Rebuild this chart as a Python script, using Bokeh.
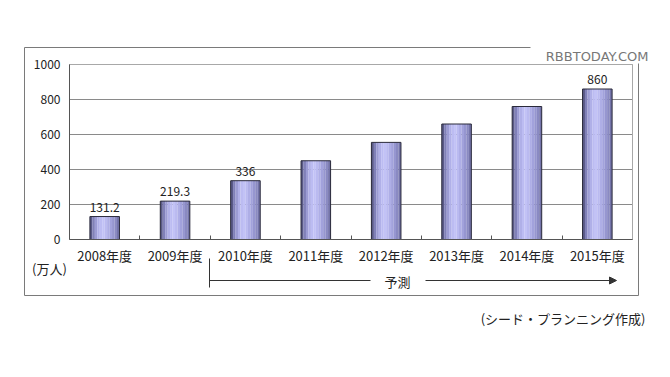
from bokeh.plotting import figure
from bokeh.models import (Range1d, FixedTicker, ColumnDataSource, LabelSet, Label, Arrow,
                          NormalHead, LinearAxis)
from bokeh.core.properties import value
from bokeh.embed import file_html
from bokeh.resources import INLINE

# ---- data ----
categories = ["2008年度", "2009年度", "2010年度", "2011年度", "2012年度", "2013年度", "2014年度", "2015年度"]
values = [131.2, 219.3, 336, 450, 555, 660, 760, 860]
value_labels = ["131.2", "219.3", "336", "", "", "", "", "860"]
y_ticks = [0, 200, 400, 600, 800, 1000]
unit_label = "(万人)"
forecast_label = "予測"
source_label = "(シード・プランニング作成)"
watermark = "RBBTODAY.COM"

# ---- layout (pixels) ----
W, H = 660, 360
PL, PR, PT, PB = 69, 632, 64, 239   # plot area in canvas pixels
FONT = "Noto Sans CJK JP"
U = "canvas"

nx = len(categories)
ymax = y_ticks[-1]
kx = (PR - PL) / nx
ky = (PB - PT) / ymax
x_range = Range1d(-PL / kx, nx + (W - PR) / kx)
y_range = Range1d(-(H - PB) / ky, ymax + PT / ky)

p = figure(width=W, height=H, output_backend="svg", toolbar_location=None,
           x_range=x_range, y_range=y_range, x_axis_location=None, y_axis_location=None,
           min_border=0, background_fill_color="white", border_fill_color="white")
p.outline_line_color = None
p.grid.visible = False

# grid lines and plot-area border
p.segment(x0=[0] * len(y_ticks), x1=[nx] * len(y_ticks), y0=y_ticks, y1=y_ticks,
          line_color="#8a8a8a", line_width=1)
p.quad(left=[0], right=[nx], bottom=[0], top=[ymax], fill_color=None, line_color="#a8a8a8")

# bars with a cylinder-like gradient made of strips
xs = [i + 0.5 for i in range(nx)]
bw = 0.42
grad = ["#5a5a88", "#8080b8", "#9c9cd4", "#b0b0e8", "#bcbcf2", "#c2c2f6",
        "#babaf0", "#aeaee6", "#a2a2dc", "#9696d0", "#8a8ac2", "#7474aa"]
n = len(grad)
sw = bw / n
for k, c in enumerate(grad):
    off = -bw / 2 + sw * (k + 0.5)
    p.vbar(x=[x + off for x in xs], top=values, width=sw * 1.03, bottom=0,
           fill_color=c, line_color=None)
p.vbar(x=xs, top=values, width=bw, bottom=0, fill_color=None, line_color="#2a2a3a", line_width=1)

src = ColumnDataSource(dict(x=xs, y=values, t=value_labels))
p.add_layout(LabelSet(x="x", y="y", text="t", source=src, text_align="center",
                      text_baseline="bottom", y_offset=5, text_font_size="12px",
                      text_font=value(FONT), text_color="#222222"))

# axes (fixed inside the full-canvas frame)
xa = LinearAxis(fixed_location=0, bounds=(0, nx))
xa.ticker = FixedTicker(ticks=xs, minor_ticks=list(range(1, nx)))
xa.major_label_overrides = {x: c for x, c in zip(xs, categories)}
xa.major_tick_line_color = None
xa.major_tick_out = 0
xa.major_tick_in = 0
xa.minor_tick_in = 4
xa.minor_tick_out = 0
xa.minor_tick_line_color = "#555555"
xa.axis_line_color = "#555555"
xa.major_label_standoff = 6
xa.major_label_text_font = FONT
xa.major_label_text_font_size = "13px"
xa.major_label_text_color = "#222222"
p.add_layout(xa, "below")

ya = LinearAxis(fixed_location=0, bounds=(0, ymax))
ya.ticker = FixedTicker(ticks=y_ticks)
ya.major_tick_line_color = None
ya.major_tick_out = 0
ya.major_tick_in = 0
ya.minor_tick_line_color = None
ya.axis_line_color = "#555555"
ya.major_label_standoff = 9
ya.major_label_text_font = FONT
ya.major_label_text_font_size = "12px"
ya.major_label_text_color = "#222222"
p.add_layout(ya, "left")

# outer box
box_col = "#7a7a7a"
def line(x0, y0, x1, y1, color=box_col, end=None, w=1):
    p.add_layout(Arrow(x_start=x0, y_start=y0, x_end=x1, y_end=y1,
                       start_units=U, end_units=U, start=None, end=end,
                       line_color=color, line_width=w))

line(24, 47, 530, 47)
line(24, 47, 24, 295)
line(24, 295, 638, 295)
line(638, 63, 638, 295)

# forecast arrow
line(209, 258, 209, 287, color="#333333")
line(209, 280, 370, 280, color="#333333")
line(425, 280, 616, 280, color="#333333",
     end=NormalHead(size=7, fill_color="#333333", line_color="#333333"))

def label(x, y, text, align="center", font=FONT, size="12px", color="#222222"):
    p.add_layout(Label(x=x, y=y, x_units=U, y_units=U, text=text,
                       text_align=align, text_baseline="middle", text_font=font,
                       text_font_size=size, text_color=color))

label(397, 281, forecast_label, size="13px")
label(49, 268, unit_label, size="13px")
label(645, 318, source_label, align="right", size="13px")
label(648, 56, watermark, align="right", font="DejaVu Sans", size="13px", color="#777777")

open("out.html", "w").write(file_html(p, INLINE))
